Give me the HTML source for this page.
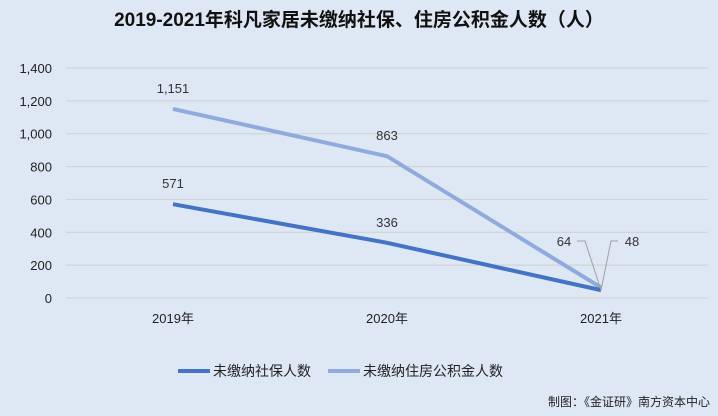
<!DOCTYPE html>
<html><head><meta charset="utf-8"><style>
body{margin:0;background:#dde8f4;}
svg{display:block;font-family:"Liberation Sans","Noto Sans CJK SC",sans-serif;}
</style></head><body>
<svg id="chart" width="718" height="416" viewBox="0 0 718 416">
<rect x="0" y="0" width="718" height="416" fill="#dde8f4"/>
<text x="359" y="26" text-anchor="middle" font-size="19" font-weight="bold" fill="#111">2019-2021年科凡家居未缴纳社保、住房公积金人数（人）</text>
<g id="grid"></g><g id="series"></g><g id="labels"></g>
<g>
<line x1="178" y1="371" x2="210" y2="371" stroke="#4472c4" stroke-width="4"/>
<text x="213" y="376" font-size="14" fill="#222">未缴纳社保人数</text>
<line x1="328" y1="371" x2="360" y2="371" stroke="#8faadc" stroke-width="4"/>
<text x="363" y="376" font-size="14" fill="#222">未缴纳住房公积金人数</text>
</g>
<text x="710" y="406" text-anchor="end" font-size="12" fill="#222">制图：《金证研》南方资本中心</text>
</svg>
<script>
const categories=["2019年","2020年","2021年"];
const socialValues=[571,336,48];
const fundValues=[1151,863,64];
const yTicks=[0,200,400,600,800,1000,1200,1400];
const NS="http://www.w3.org/2000/svg";
const L=66,R=708,T=68,B=298,YMAX=1400;
const y=v=>B-(v/YMAX)*(B-T);
const x=i=>L+(R-L)/categories.length*(i+0.5);
function mk(tag,attrs,parent,txt){const e=document.createElementNS(NS,tag);for(const k in attrs)e.setAttribute(k,attrs[k]);if(txt!=null)e.textContent=txt;parent.appendChild(e);return e;}
const grid=document.getElementById('grid'),ser=document.getElementById('series'),lab=document.getElementById('labels');
yTicks.forEach(t=>{
 const g=mk('line',{x1:L,x2:R,y1:y(t),y2:y(t),stroke:'#cfcfcf','stroke-width':1},grid);
 
 
 const tx=mk('text',{x:52,y:y(t)+5,'text-anchor':'end','font-size':13,fill:'#222'},grid,t.toLocaleString('en-US'));
 
 
});
categories.forEach((c,i)=>{
 const tx=mk('text',{x:x(i),y:323,'text-anchor':'middle','font-size':13,fill:'#222'},grid,c);
 
 
});
function line(vals,color,name){
 const p=mk('polyline',{points:vals.map((v,i)=>x(i)+','+y(v)).join(' '),fill:'none',stroke:color,'stroke-width':4,'stroke-linejoin':'round'},ser);
 
 
}
line(fundValues,'#8faadc','line-housing-fund');
line(socialValues,'#4472c4','line-social-insurance');
function label(v,lx,ly,name,leader){
 if(leader){
  const l=mk('polyline',{points:leader,fill:'none',stroke:'#a0a0a0','stroke-width':1},lab);
  
  
 }
 const t=mk('text',{x:lx,y:ly,'text-anchor':'middle','font-size':13,fill:'#333'},lab,v.toLocaleString('en-US'));
 
 
}
for(let i=0;i<2;i++){
 label(fundValues[i],x(i),y(fundValues[i])-16,'data-label-fund');
 label(socialValues[i],x(i),y(socialValues[i])-16,'data-label-social');
}
const px=x(2),py=y(socialValues[2]);
label(fundValues[2],px-37,246,'data-label-fund',`${px-24},241 ${px-16},241 ${px},${py}`);
label(socialValues[2],px+31,246,'data-label-social',`${px},${py} ${px+10},241 ${px+17},241`);
</script>
</body></html>
